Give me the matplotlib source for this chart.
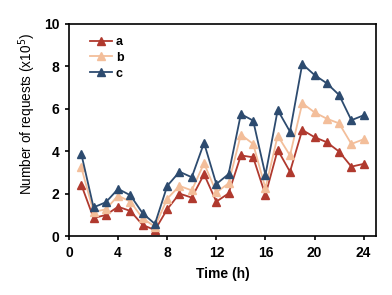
import matplotlib.pyplot as plt

# Datos (numero de peticiones x10^5 por hora)
horas = list(range(1, 25))
serie_a = [2.42, 0.85, 0.99, 1.38, 1.18, 0.52, 0.28, 1.26, 2.0, 1.81, 2.91, 1.62,
           2.01, 3.8, 3.71, 1.93, 4.06, 3.03, 5.0, 4.66, 4.42, 3.98, 3.27, 3.4]
serie_b = [3.24, 1.13, 1.26, 1.9, 1.62, 0.83, 0.44, 1.76, 2.36, 2.15, 3.43, 2.06,
           2.48, 4.78, 4.34, 2.25, 4.73, 3.8, 6.26, 5.83, 5.53, 5.31, 4.34, 4.56]
serie_c = [3.88, 1.35, 1.59, 2.22, 1.92, 1.07, 0.57, 2.36, 3.03, 2.77, 4.39, 2.45,
           2.92, 5.75, 5.44, 2.88, 5.94, 4.92, 8.11, 7.59, 7.2, 6.65, 5.46, 5.69]
etiquetas = ['a', 'b', 'c']
colores = ['#B0392E', '#F3BE9A', '#2D4B6F']

plt.rcParams['font.family'] = ['Liberation Sans', 'DejaVu Sans']

fig = plt.figure(figsize=(3.92, 2.95), dpi=100)
ax = fig.add_axes([0.176, 0.2, 0.783, 0.719])

for serie, nombre, color in zip([serie_a, serie_b, serie_c], etiquetas, colores):
    ax.plot(horas, serie, color=color, lw=1.3, marker='^', ms=5.5, label=nombre)

ax.set_xlim(0, 25)
ax.set_ylim(0, 10)
ax.set_xticks([0, 4, 8, 12, 16, 20, 24])
ax.set_yticks([0, 2, 4, 6, 8, 10])
ax.tick_params(direction='out', length=3, width=1.2, labelsize=10, pad=4)
for lab in ax.get_xticklabels() + ax.get_yticklabels():
    lab.set_fontweight('bold')
for s in ax.spines.values():
    s.set_linewidth(1.2)

ax.set_xlabel('Time (h)', fontsize=10, fontweight='bold', labelpad=5)
ax.set_ylabel('Number of requests (x10$^5$)', fontsize=9.8)
ax.yaxis.set_label_coords(-0.1, 0.575)

leg = ax.legend(loc='upper left', frameon=False, fontsize=9, handlelength=1.8,
                labelspacing=0.3, borderaxespad=0.4, handletextpad=0.3,
                bbox_to_anchor=(0.035, 0.99))
for t in leg.get_texts():
    t.set_fontweight('bold')

fig.savefig('out.png', dpi=100)
